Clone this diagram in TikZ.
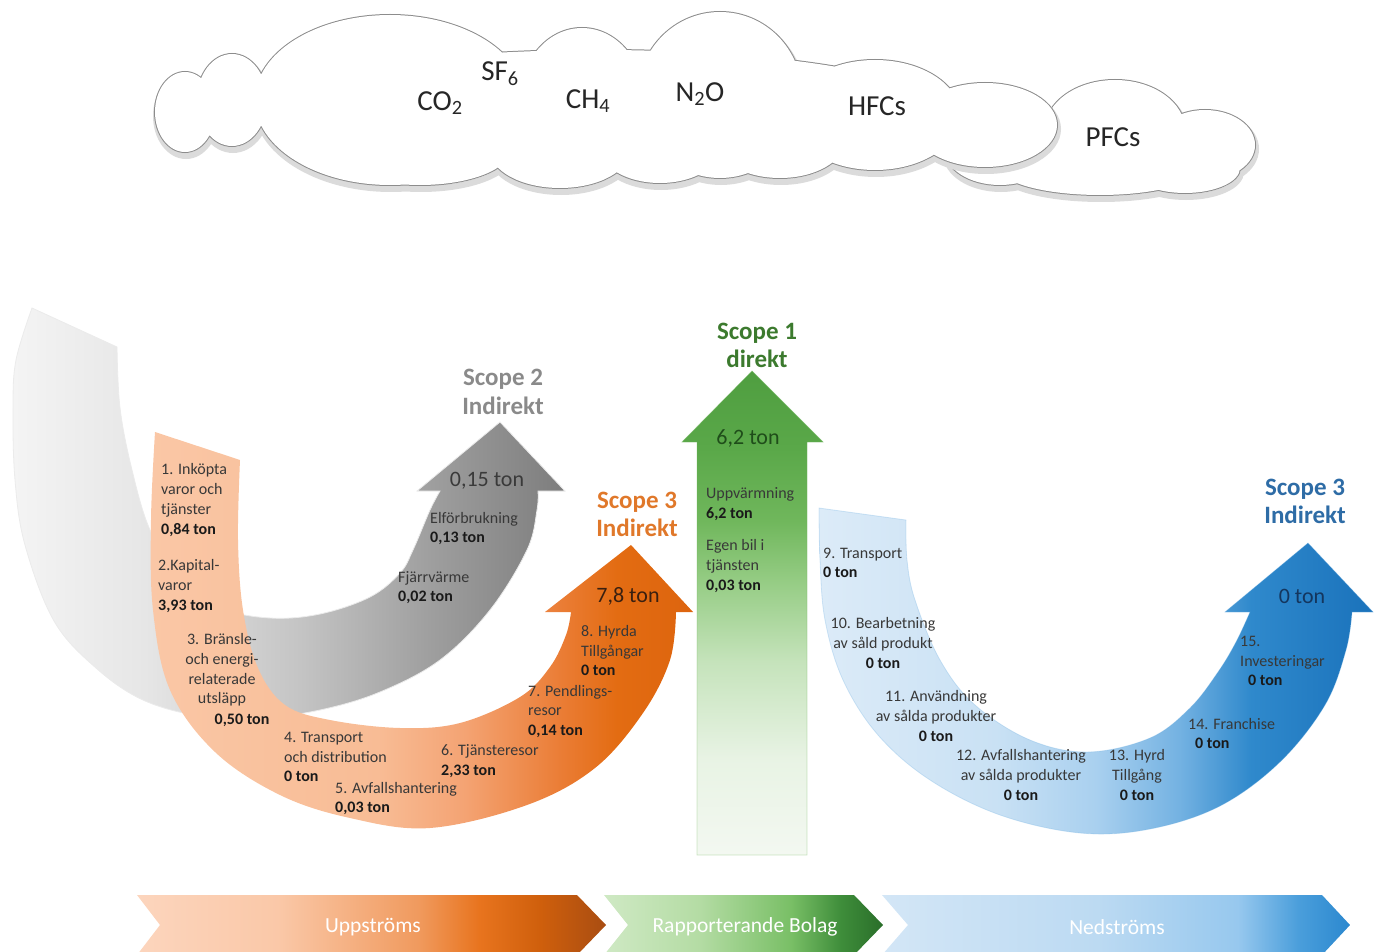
\documentclass[tikz,border=0pt]{standalone}
\usepackage{fontspec}
\setmainfont{Carlito}
\definecolor{txtc}{HTML}{383838}
\definecolor{boldc}{HTML}{1A1A1A}
% grey
\definecolor{gA}{HTML}{F4F4F4}\definecolor{gB}{HTML}{E6E6E6}\definecolor{gC}{HTML}{C4C4C4}
\definecolor{gD}{HTML}{9E9E9E}\definecolor{gE}{HTML}{7D7D7D}
% orange
\definecolor{oA}{HTML}{FAC7A6}\definecolor{oB}{HTML}{F8BC95}\definecolor{oC}{HTML}{F4A373}
\definecolor{oD}{HTML}{EA7C34}\definecolor{oE}{HTML}{E36C12}\definecolor{oF}{HTML}{DD640E}
% green
\definecolor{vA}{HTML}{F3F8F1}\definecolor{vB}{HTML}{E8F3E4}\definecolor{vC}{HTML}{C5E3BB}
\definecolor{vD}{HTML}{97CD86}\definecolor{vE}{HTML}{70B75C}\definecolor{vF}{HTML}{5AA849}\definecolor{vG}{HTML}{4F9E40}
% blue
\definecolor{bA}{HTML}{DCEBF8}\definecolor{bB}{HTML}{C9E1F4}\definecolor{bC}{HTML}{A9D0EF}
\definecolor{bD}{HTML}{74B2E2}\definecolor{bE}{HTML}{2F89CC}\definecolor{bF}{HTML}{1A72BB}
% chevrons
\definecolor{uA}{HTML}{FCD5BD}\definecolor{uB}{HTML}{FAC8A8}\definecolor{uC}{HTML}{F09A5E}
\definecolor{uD}{HTML}{E8741E}\definecolor{uE}{HTML}{CF5F0C}\definecolor{uF}{HTML}{A94D12}
\definecolor{rA}{HTML}{CFE9C4}\definecolor{rB}{HTML}{B4DCA4}\definecolor{rC}{HTML}{79BF66}
\definecolor{rD}{HTML}{3E8D3A}\definecolor{rE}{HTML}{2A6E2A}
\definecolor{nA}{HTML}{D3E6F6}\definecolor{nB}{HTML}{BCDAF2}\definecolor{nC}{HTML}{97C8EE}
\definecolor{nD}{HTML}{4A9EDB}\definecolor{nE}{HTML}{2B88CF}
% label colours
\definecolor{sTwo}{HTML}{8A8A8A}\definecolor{sOne}{HTML}{3C7A2E}
\definecolor{sThreeO}{HTML}{E0782A}\definecolor{sThreeB}{HTML}{2E6CA6}
\definecolor{amtG}{HTML}{3A3A3A}\definecolor{amtV}{HTML}{1F4D1A}
\definecolor{amtO}{HTML}{3A2010}\definecolor{amtB}{HTML}{14365E}

\pgfdeclarehorizontalshading{greyshade}{100bp}{color(0bp)=(gA); color(25bp)=(gA); color(37bp)=(gB); color(51bp)=(gC); color(63bp)=(gD); color(75bp)=(gE); color(100bp)=(gE)}
\pgfdeclarehorizontalshading{orshade}{100bp}{color(0bp)=(oA); color(25bp)=(oA); color(46bp)=(oB); color(54bp)=(oC); color(63bp)=(oD); color(68bp)=(oE); color(75bp)=(oF); color(100bp)=(oF)}
\pgfdeclareverticalshading{grnshade}{100bp}{color(0bp)=(vA); color(25bp)=(vA); color(35bp)=(vB); color(45bp)=(vC); color(53bp)=(vD); color(59.5bp)=(vE); color(67bp)=(vF); color(75bp)=(vG); color(100bp)=(vG)}
\pgfdeclarehorizontalshading{blshade}{100bp}{color(0bp)=(bA); color(25bp)=(bA); color(41bp)=(bB); color(50bp)=(bC); color(57.5bp)=(bD); color(64bp)=(bE); color(75bp)=(bF); color(100bp)=(bF)}
\pgfdeclarehorizontalshading{upshade}{100bp}{color(0bp)=(uA); color(25bp)=(uA); color(40bp)=(uB); color(55bp)=(uC); color(61.5bp)=(uD); color(68bp)=(uE); color(75bp)=(uF); color(100bp)=(uF)}
\pgfdeclarehorizontalshading{rpshade}{100bp}{color(0bp)=(rA); color(25bp)=(rA); color(42bp)=(rB); color(58.5bp)=(rC); color(67.5bp)=(rD); color(75bp)=(rE); color(100bp)=(rE)}
\pgfdeclarehorizontalshading{ndshade}{100bp}{color(0bp)=(nA); color(25bp)=(nA); color(48bp)=(nB); color(63bp)=(nC); color(69.5bp)=(nD); color(75bp)=(nE); color(100bp)=(nE)}

\tikzset{
  sm/.style={font=\fontsize{16}{19.7}\selectfont, text=txtc, inner sep=0pt, align=left, anchor=west},
  smc/.style={sm, align=center, anchor=center},
  amt/.style={font=\fontsize{22}{24}\selectfont, inner sep=0pt},
  scopelbl/.style={font=\fontsize{25}{28.5}\selectfont\bfseries, inner sep=0pt, align=center},
  gas/.style={font=\fontsize{29}{32}\selectfont, inner sep=0pt, text=black!85},
  chevtxt/.style={font=\fontsize{21.5}{24}\selectfont, text=white, inner sep=0pt},
}
\newcommand{\bt}[1]{\textcolor{boldc}{\textbf{#1}}}

\begin{document}
\begin{tikzpicture}[x=1pt,y=-1pt]
\useasboundingbox (0,0) rectangle (1378,952);

% ---------------- clouds ----------------
\def\cloudB{(1000,150) ellipse [x radius=55,y radius=35]
 (1115,130) ellipse [x radius=70,y radius=50]
 (1205,145) ellipse [x radius=50,y radius=35]
 (1100,168) ellipse [x radius=100,y radius=27]
 (1185,168) ellipse [x radius=55,y radius=25]}
\def\cloudA{(185,112) ellipse [x radius=30,y radius=40]
 (232,100) ellipse [x radius=35,y radius=46]
 (390,100) ellipse [x radius=135,y radius=85]
 (582,100) ellipse [x radius=62,y radius=72]
 (720,95) ellipse [x radius=82,y radius=83]
 (875,115) ellipse [x radius=85,y radius=55]
 (985,125) ellipse [x radius=72,y radius=42]
 (420,150) ellipse [x radius=90,y radius=35]
 (560,150) ellipse [x radius=70,y radius=38]
 (660,148) ellipse [x radius=60,y radius=35]
 (780,140) ellipse [x radius=65,y radius=38]
 (600,110) ellipse [x radius=340,y radius=60]}
\path[draw=black!14, line width=6, shift={(1,4)}] \cloudB;
\path[draw=black!45, line width=2] \cloudB;
\path[fill=white] \cloudB;
\path[draw=black!14, line width=6, shift={(1,4)}] \cloudA;
\path[draw=black!45, line width=2] \cloudA;
\path[fill=white] \cloudA;

\node[gas] (co2) at (440,103) {CO\textsubscript{2}};
\node[gas] (sf6) at (500,74) {SF\textsubscript{6}};
\node[gas] (ch4) at (588,101) {CH\textsubscript{4}};
\node[gas] (n2o) at (700,94) {N\textsubscript{2}O};
\node[gas] (hfc) at (877,106) {HFCs};
\node[gas] (pfc) at (1113,137) {PFCs};

% ---------------- grey arrow (scope 2) ----------------
\path[shading=greyshade, draw=black!8, line width=0.8]
  plot[smooth, tension=0.6] coordinates {(32,308) (16,360) (13,408) (15,480) (25,545) (54,621) (96,668) (143,700) (200,716) (260,718) (320,710) (380,692) (440,660) (490,610) (527,550) (537,510) (538,491)}
  -- (565,491) -- (500,422) -- (417,491) -- (440,491)
  -- plot[smooth, tension=0.6] coordinates {(440,491) (430,510) (413,550) (400,573) (370,597) (320,614) (270,618) (220,608) (180,580) (150,530) (132,470) (120,408) (117,347)}
  -- cycle;

% ---------------- orange arrow (scope 3 upstream) ----------------
\path[shading=orshade]
  plot[smooth, tension=0.6] coordinates {(155,432) (151,520) (153,610) (170,690) (215,752) (280,795) (350,818) (430,828) (527,805) (595,768) (643,713) (670,660) (676,612)}
  -- (693,612) -- (631,545) -- (545,612) -- (571,612)
  -- plot[smooth, tension=0.6] coordinates {(571,612) (566,635) (550,667) (520,697) (460,723) (400,728) (330,720) (285,705) (258,668) (243,610) (238,540) (240,460)}
  -- cycle;

% ---------------- green arrow (scope 1) ----------------
\path[shading=grnshade, draw=vE, draw opacity=0.35, line width=0.8]
  (697,855) -- (697,442) -- (682,442) -- (752,371) -- (823,442) -- (807,442) -- (807,855) -- cycle;

% ---------------- blue arrow (scope 3 downstream) ----------------
\path[shading=blshade, draw=bD, draw opacity=0.3, line width=0.8]
  plot[smooth, tension=0.6] coordinates {(819,508) (820,560) (825,620) (843,680) (878,735) (930,780) (1000,815) (1080,833) (1150,829) (1220,806) (1280,762) (1325,705) (1346,650) (1352,612)}
  -- (1373,612) -- (1308,543) -- (1225,612) -- (1250,612)
  -- plot[smooth, tension=0.6] coordinates {(1250,612) (1236,642) (1218,672) (1190,708) (1150,738) (1088,752) (1030,740) (975,705) (940,660) (915,600) (907,560) (906,520)}
  -- cycle;

% ---------------- chevrons ----------------
\path[shading=upshade] (137,895) -- (577,895) -- (606,925) -- (577,955) -- (137,955) -- (160,925) -- cycle;
\path[shading=rpshade] (604,895) -- (854,895) -- (883,925) -- (854,955) -- (604,955) -- (628,925) -- cycle;
\path[shading=ndshade] (882,895) -- (1322,895) -- (1350,925) -- (1322,955) -- (882,955) -- (908,925) -- cycle;
\node[chevtxt] (ups) at (373,927) {Uppströms};
\node[chevtxt] (rap) at (745,927) {Rapporterande Bolag};
\node[chevtxt] (ned) at (1117,927) {Nedströms};

% ---------------- scope labels ----------------
\node[scopelbl, text=sTwo] (s2) at (503,392) {Scope 2\\Indirekt};
\node[scopelbl, text=sOne] (s1) at (757,345.5) {Scope 1\\direkt};
\node[scopelbl, text=sThreeO] (s3o) at (637,514.5) {Scope 3\\Indirekt};
\node[scopelbl, text=sThreeB] (s3b) at (1305,501.5) {Scope 3\\Indirekt};

\node[amt, text=amtG] (a2) at (487,481) {0,15 ton};
\node[amt, text=amtV] (a1) at (748,438) {6,2 ton};
\node[amt, text=amtO] (a3o) at (628,596) {7,8 ton};
\node[amt, text=amtB] (a3b) at (1302,596) {0 ton};

% ---------------- grey arrow texts ----------------
\node[sm] (el) at (430,528.5) {Elförbrukning\\\bt{0,13 ton}};
\node[sm] (fj) at (398,587.5) {Fjärrvärme\\\bt{0,02 ton}};

% ---------------- orange arrow texts ----------------
\node[sm] (c1) at (161,500) {1. Inköpta\\varor och\\tjänster\\\bt{0,84 ton}};
\node[sm] (c2) at (158,586) {2.Kapital-\\varor\\\bt{3,93 ton}};
\node[smc] (c3) at (222,670) {3. Bränsle-\\och energi-\\relaterade\\utsläpp};
\node[smc] (c3t) at (242,720) {\bt{0,50 ton}};
\node[sm] (c4) at (284,757) {4. Transport\\och distribution\\\bt{0 ton}};
\node[sm] (c5) at (335,798.5) {5. Avfallshantering\\\bt{0,03 ton}};
\node[sm] (c6) at (441,761) {6. Tjänsteresor\\\bt{2,33 ton}};
\node[sm] (c7) at (528,711.5) {7. Pendlings-\\resor\\\bt{0,14 ton}};
\node[sm] (c8) at (581,650.5) {8. Hyrda\\Tillgångar\\\bt{0 ton}};

% ---------------- green arrow texts ----------------
\node[sm] (uv) at (706,504) {Uppvärmning\\\bt{6,2 ton}};
\node[sm] (eb) at (706,566) {Egen bil i\\tjänsten\\\bt{0,03 ton}};

% ---------------- blue arrow texts ----------------
\node[sm] (c9) at (823,563) {9. Transport\\\bt{0 ton}};
\node[smc] (c10) at (883,643) {10. Bearbetning\\av såld produkt\\\bt{0 ton}};
\node[smc] (c11) at (936,716) {11. Användning\\av sålda produkter\\\bt{0 ton}};
\node[smc] (c12) at (1021,775) {12. Avfallshantering\\av sålda produkter\\\bt{0 ton}};
\node[smc] (c13) at (1137,775) {13. Hyrd\\Tillgång\\\bt{0 ton}};
\node[sm] (c14) at (1188,733.5) {14. Franchise\\\hspace*{7pt}\bt{0 ton}};
\node[sm] (c15) at (1240,661) {15.\\Investeringar\\\hspace*{8pt}\bt{0 ton}};
\end{tikzpicture}
\end{document}
